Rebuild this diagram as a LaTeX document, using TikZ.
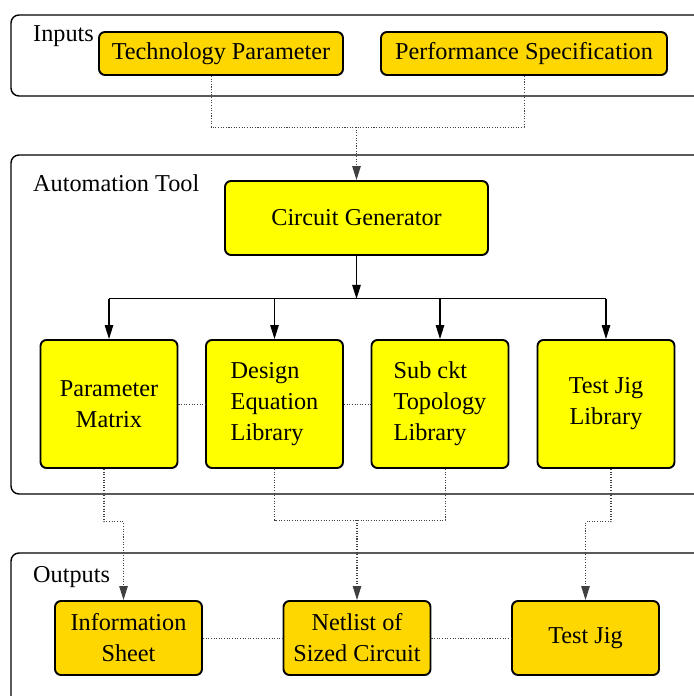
\documentclass[tikz,border=0pt]{standalone}
\usepackage{fontspec}
\newfontfamily\boxfont{Liberation Serif}
\usetikzlibrary{arrows.meta}
\definecolor{ioyellow}{HTML}{FFD700}
\definecolor{toolyellow}{HTML}{FFFF00}

\begin{document}
\begin{tikzpicture}[
	every node/.style = {font = \boxfont\fontsize{13.8}{17.6}\selectfont},
	group/.style = {draw, line width = 0.8pt, rounded corners = 0.16cm},
	block/.style = {draw, line width = 1.1pt, rounded corners = 0.12cm, inner sep = 0pt, align = center},
	io/.style = {block, fill = ioyellow, minimum height = 1.48cm, minimum width = 2.94cm},
	tool/.style = {block, fill = toolyellow, minimum height = 2.56cm, minimum width = 2.74cm},
	flow/.style = {line width = 0.6pt, -{Triangle[length = 2.8mm, width = 1.7mm]}},
	link/.style = {line width = 0.5pt, black!75, dash pattern = on 0.6pt off 0.9pt}]
	\useasboundingbox (0,0) rectangle (13.86,13.92);
	% the three groups
	\draw [group] (0.22,12.0) rectangle (14.2,13.62);
	\draw [group] (0.22,4.04) rectangle (14.2,10.82);
	\draw [group] (0.22,-0.3) rectangle (14.2,2.86);
	\node [anchor = base west] (inputs) at (0.54,13.08) {Inputs};
	\node [anchor = base west] (tool) at (0.54,10.08) {Automation Tool};
	\node [anchor = base west] (outputs) at (0.54,2.26) {Outputs};
	% inputs
	\node [block, fill = ioyellow, minimum width = 4.88cm, minimum height = 0.86cm] (tp) at (4.42,12.85) {Technology Parameter};
	\node [block, fill = ioyellow, minimum width = 5.72cm, minimum height = 0.86cm] (ps) at (10.48,12.85) {Performance Specification};
	% automation tool
	\node [block, fill = toolyellow, minimum width = 5.26cm, minimum height = 1.48cm] (cg) at (7.13,9.56) {Circuit Generator};
	\node [tool] (pm) at (2.18,5.84) {Parameter\\Matrix};
	\node [tool, align = left] (de) at (5.49,5.84) {Design\\Equation\\Library};
	\node [tool, align = left] (sc) at (8.80,5.84) {Sub ckt\\Topology\\Library};
	\node [tool] (tjl) at (12.12,5.84) {Test Jig\\Library};
	% outputs
	\node [io] (is) at (2.57,1.16) {Information\\Sheet};
	\node [io] (nl) at (7.14,1.16) {Netlist of\\Sized Circuit};
	\node [io] (tjo) at (11.71,1.16) {Test Jig};
	% inputs into the generator
	\path (cg.north) ++(0,1.06) coordinate (jin);
	\draw [link] ([xshift = -2mm]tp.south) |- (jin) -| (ps.south);
	\draw [link, flow] (jin) -- (cg.north);
	% generator fans out
	\path (cg.south) ++(0,-0.86) coordinate (fork);
	\draw [flow] (cg.south) -- (fork);
	\draw [line width = 0.6pt] (pm.north |- fork) -- (tjl.north |- fork);
	\foreach \b in {pm,de,sc,tjl}
		\draw [flow] (\b.north |- fork) -- (\b.north);
	\draw [link] (pm) -- (de);
	\draw [link] (de) -- (sc);
	% libraries into the outputs
	\path (nl.north) ++(0,1.6) coordinate (jout);
	\draw [link, flow] ([xshift = -1mm]pm.south) -- ++(0,-1.06) -| ([xshift = -1mm]is.north);
	\draw [link] (de.south) |- (jout) -| ([xshift = 1mm]sc.south);
	\draw [link, flow] (jout) -- (nl.north);
	\draw [link, flow] ([xshift = 1mm]tjl.south) -- ++(0,-1.06) -| (tjo.north);
	\draw [link] (is) -- (nl);
	\draw [link] (nl) -- (tjo);
\end{tikzpicture}
\end{document}
